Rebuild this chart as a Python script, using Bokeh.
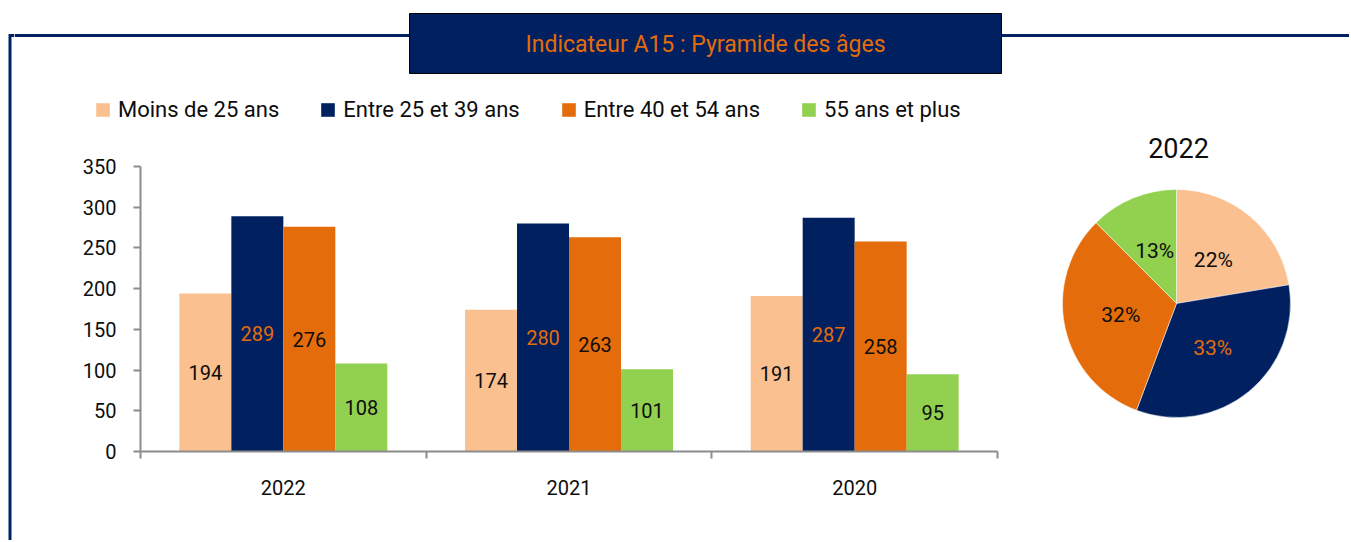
import numpy as np
from bokeh.plotting import figure
from bokeh.layouts import row, column
from bokeh.models import (Range1d, LinearAxis, FixedTicker, Legend, LegendItem,
                          ColumnDataSource)
from bokeh.core.properties import value
from bokeh.embed import file_html
from bokeh.resources import INLINE

# ---------------- data ----------------
years = ["2022", "2021", "2020"]
series = ["Moins de 25 ans", "Entre 25 et 39 ans", "Entre 40 et 54 ans", "55 ans et plus"]
moins_25 = [194, 174, 191]
entre_25_39 = [289, 280, 287]
entre_40_54 = [276, 263, 258]
plus_55 = [108, 101, 95]
y_ticks = [0, 50, 100, 150, 200, 250, 300, 350]
pie_year = years[0]
pie_labels = ["22%", "33%", "32%", "13%"]
title_text = "Indicateur A15 : Pyramide des âges"

# ---------------- style ----------------
colors = ["#FAC090", "#002060", "#E46C0A", "#92D050"]
label_colors = ["#0D0D0D", "#E46C0A", "#0D0D0D", "#0D0D0D"]
FONT = "Roboto"
NAVY = "#002060"
ORANGE = "#E46C0A"
AXIS_GRAY = "#8C8C8C"
TXT = "#0D0D0D"

# page geometry (pixels)
TOP_H = 128          # height of the top band (title + legend)
BODY_H = 412         # height of the chart band
FRAME_TOP_PAD = 2
FRAME_BOTTOM_PAD = 89
AXIS_PX = 285        # pixels spanned by 0..350 on the value axis


def bare(**kw):
    f = figure(output_backend="svg", toolbar_location=None, x_axis_type=None,
               y_axis_type=None, outline_line_color=None, **kw)
    f.xgrid.visible = False
    f.ygrid.visible = False
    return f


# ---------------- left border strip ----------------
L = bare(width=14, height=TOP_H + BODY_H, x_range=Range1d(0, 14),
         y_range=Range1d(TOP_H + BODY_H, 0), min_border=0)
L.line(x=[9.5, 9.5, 14], y=[TOP_H + BODY_H, 35, 35], line_color=NAVY, line_width=3,
       line_join="miter")

# ---------------- top band: border line, title box, legend ----------------
T = bare(width=1335, height=TOP_H, x_range=Range1d(14, 1349), y_range=Range1d(TOP_H, 0),
         min_border=0)
T.line(x=[14, 1349], y=[35, 35], line_color=NAVY, line_width=3)
T.quad(left=[409], right=[1001], top=[13], bottom=[73], fill_color=NAVY,
       line_color="black", line_width=1)
T.text(x=[705], y=[44], text=[title_text], text_align="center", text_baseline="middle",
       text_color=ORANGE, text_font=value(FONT), text_font_size="23px")

# legend swatches: off-screen zero-height stand-ins carrying each series' colour
legend_items = []
for name, c in zip(series, colors):
    proxy = T.vbar(x=[-10000], top=[0], bottom=[0], width=1, fill_color=c, line_color=None)
    legend_items.append(LegendItem(label=name, renderers=[proxy]))
legend = Legend(items=legend_items, orientation="horizontal", location=(80, 6),
                glyph_width=17, glyph_height=17, label_standoff=7, spacing=40,
                label_text_font=FONT, label_text_font_size="22px", label_text_color=TXT,
                padding=0, margin=0, border_line_alpha=0, background_fill_alpha=0)
T.add_layout(legend)

# ---------------- bar chart ----------------
frame_h = BODY_H - FRAME_TOP_PAD - FRAME_BOTTOM_PAD
B = bare(width=1004, height=BODY_H, x_range=Range1d(0, len(years)),
         y_range=Range1d(0, max(y_ticks) * frame_h / AXIS_PX),
         min_border_left=126, min_border_right=21, min_border_top=FRAME_TOP_PAD,
         min_border_bottom=FRAME_BOTTOM_PAD)

group_x = np.arange(len(years)) + 0.5
bar_w = 0.182
offsets = (np.arange(len(series)) - 1.5) * bar_w
for i, vals in enumerate([moins_25, entre_25_39, entre_40_54, plus_55]):
    src = ColumnDataSource(dict(x=group_x + offsets[i], top=vals,
                                mid=np.array(vals) / 2.0, txt=[str(v) for v in vals]))
    B.vbar(x="x", top="top", width=bar_w, source=src, fill_color=colors[i], line_color=None)
    B.text(x="x", y="mid", text="txt", source=src, text_align="center", text_baseline="middle",
           text_color=label_colors[i], text_font=value(FONT), text_font_size="20px")

yaxis = LinearAxis(ticker=FixedTicker(ticks=y_ticks, minor_ticks=[]),
                   bounds=(min(y_ticks), max(y_ticks)),
                   axis_line_color=AXIS_GRAY, axis_line_width=2,
                   major_tick_line_color=AXIS_GRAY, major_tick_line_width=2,
                   major_tick_out=7, major_tick_in=0, minor_tick_line_color=None,
                   major_label_text_font=FONT, major_label_text_font_size="20px",
                   major_label_text_color=TXT, major_label_standoff=17)
B.add_layout(yaxis, "left")

xaxis = LinearAxis(ticker=FixedTicker(ticks=list(group_x),
                                      minor_ticks=list(np.arange(len(years) + 1))),
                   major_label_overrides={float(x): y for x, y in zip(group_x, years)},
                   axis_line_color=AXIS_GRAY, axis_line_width=2,
                   major_tick_line_color=None, major_tick_out=0, major_tick_in=0,
                   minor_tick_line_color=AXIS_GRAY, minor_tick_line_width=2,
                   minor_tick_out=7, minor_tick_in=0,
                   major_label_text_font=FONT, major_label_text_font_size="20px",
                   major_label_text_color=TXT, major_label_standoff=21)
B.add_layout(xaxis, "below")

# ---------------- pie ----------------
P = bare(width=331, height=BODY_H, x_range=Range1d(-158, 173),
         y_range=Range1d(-(frame_h - 173), 173),
         min_border_left=0, min_border_right=0, min_border_top=FRAME_TOP_PAD,
         min_border_bottom=FRAME_BOTTOM_PAD)
pie_vals = np.array([moins_25[0], entre_25_39[0], entre_40_54[0], plus_55[0]], dtype=float)
frac = pie_vals / pie_vals.sum()
cum = np.concatenate([[0.0], np.cumsum(frac)])
start = np.pi / 2 - cum[:-1] * 2 * np.pi
end = np.pi / 2 - cum[1:] * 2 * np.pi
R = 114
P.wedge(x=0, y=0, radius=R, start_angle=start, end_angle=end, direction="clock",
        fill_color=colors, line_color="white", line_width=0.5)
mid = (start + end) / 2
P.text(x=0.5 * R * np.cos(mid), y=0.5 * R * np.sin(mid), text=pie_labels,
       text_align="center", text_baseline="middle", text_color=label_colors,
       text_font=value(FONT), text_font_size="21px")
P.text(x=[2], y=[156], text=[pie_year], text_align="center", text_baseline="middle",
       text_color=TXT, text_font=value(FONT), text_font_size="27px")

layout = row(L, column(T, row(B, P)))
open("out.html", "w").write(file_html(layout, INLINE))
